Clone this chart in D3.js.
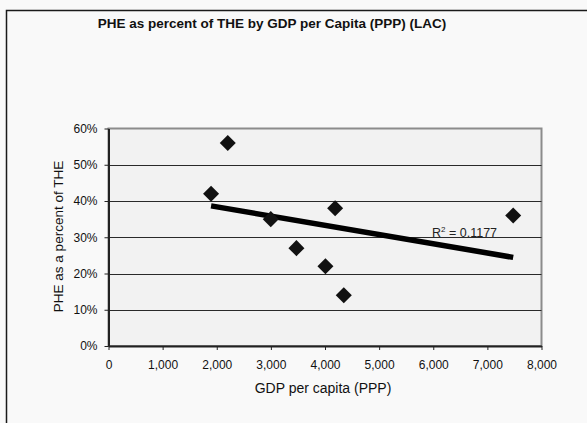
<!DOCTYPE html>
<html>
<head>
<meta charset="utf-8">
<script src="https://cdn.jsdelivr.net/npm/d3@7"></script>
<style>
  html, body { margin: 0; padding: 0; background: #f9f9f9; overflow: hidden; }
  svg { display: block; font-family: Arial, "Liberation Sans", sans-serif; }
</style>
</head>
<body>
<svg id="chart" width="587" height="423"></svg>
<script>
// GDP per capita (PPP) and private health expenditure share, LAC countries
const gdpPerCapita = [1895, 2203, 2998, 3472, 4008, 4187, 4347, 7477];
const pheShare     = [0.42, 0.56, 0.35, 0.27, 0.22, 0.38, 0.14, 0.36];
const xTicks = [0, 1000, 2000, 3000, 4000, 5000, 6000, 7000, 8000];
const yTicks = [0, 0.1, 0.2, 0.3, 0.4, 0.5, 0.6];
const rSquaredLabel = "0.1177";

const svg = d3.select("#chart");
const W = 587, H = 423;

// chart background; frame runs off the right and bottom edges
svg.append("rect").attr("x", 0).attr("y", 0).attr("width", W).attr("height", H).attr("fill", "#f9f9f9");
svg.append("path").attr("d", `M6.5,${H}V10.5H${W}`)
  .attr("fill", "none").attr("stroke", "#1a1a1a").attr("stroke-width", 1.5);

const x = d3.scaleLinear().domain([0, 8000]).range([108.5, 541.5]);
const y = d3.scaleLinear().domain([0, 0.6]).range([346, 128.5]);

// plot area
svg.append("rect")
  .attr("x", x(0)).attr("y", y(0.6))
  .attr("width", x(8000) - x(0)).attr("height", y(0) - y(0.6))
  .attr("fill", "#f2f2f2").attr("stroke", "#8c8c8c").attr("stroke-width", 2);

// horizontal gridlines
svg.append("g").selectAll("line").data(yTicks.filter(t => t > 0 && t < 0.6)).join("line")
  .attr("x1", x(0)).attr("x2", x(8000))
  .attr("y1", d => Math.round(y(d)) + 0.5).attr("y2", d => Math.round(y(d)) + 0.5)
  .attr("stroke", "#2a2a2a").attr("stroke-width", 1);

// axes
const xAxis = svg.append("g").attr("transform", `translate(0,${y(0)})`)
  .call(d3.axisBottom(x).tickValues(xTicks).tickFormat(d3.format(",")).tickSizeInner(4).tickSizeOuter(0).tickPadding(10));
const yAxis = svg.append("g").attr("transform", `translate(${x(0)},0)`)
  .call(d3.axisLeft(y).tickValues(yTicks).tickFormat(d3.format(".0%")).tickSizeInner(4).tickSizeOuter(0).tickPadding(7));
[xAxis, yAxis].forEach(g => {
  g.select(".domain").attr("stroke", "#222").attr("stroke-width", 2);
  g.selectAll(".tick line").attr("stroke", "#222").attr("stroke-width", 1);
  g.selectAll(".tick text").attr("fill", "#111").style("font-size", "12px").style("font-family", "Arial, 'Liberation Sans', sans-serif");
});

// linear trend line (least squares)
const n = gdpPerCapita.length;
const mx = d3.mean(gdpPerCapita), my = d3.mean(pheShare);
let sxy = 0, sxx = 0;
for (let i = 0; i < n; i++) {
  sxy += (gdpPerCapita[i] - mx) * (pheShare[i] - my);
  sxx += (gdpPerCapita[i] - mx) ** 2;
}
const slope = sxy / sxx, intercept = my - slope * mx;
const [xMin, xMax] = d3.extent(gdpPerCapita);
svg.append("line")
  .attr("x1", x(xMin)).attr("y1", y(intercept + slope * xMin))
  .attr("x2", x(xMax)).attr("y2", y(intercept + slope * xMax))
  .attr("stroke", "#000").attr("stroke-width", 5.5);

// data markers (diamonds)
const diamond = d3.symbol(d3.symbolSquare, 128);
svg.append("g").selectAll("path").data(gdpPerCapita.map((g, i) => [g, pheShare[i]])).join("path")
  .attr("d", diamond)
  .attr("transform", d => `translate(${x(d[0])},${y(d[1])}) rotate(45)`)
  .attr("fill", "#111");

// R² label
const r2 = svg.append("text").attr("x", 432).attr("y", 237)
  .style("font-size", "12.5px").attr("fill", "#222");
r2.append("tspan").text("R");
r2.append("tspan").attr("dy", -5).style("font-size", "8px").text("2");
r2.append("tspan").attr("dy", 5).text(" = " + rSquaredLabel);

// titles
svg.append("text").attr("x", 272).attr("y", 27.5).attr("text-anchor", "middle")
  .style("font-size", "13.5px").style("font-weight", "bold").attr("fill", "#111")
  .text("PHE as percent of THE by GDP per Capita (PPP) (LAC)");
svg.append("text").attr("x", 323).attr("y", 393).attr("text-anchor", "middle")
  .style("font-size", "14px").attr("fill", "#111").text("GDP per capita (PPP)");
svg.append("text").attr("transform", "translate(63,236.5) rotate(-90)").attr("text-anchor", "middle")
  .style("font-size", "13.5px").attr("fill", "#111").text("PHE as a percent of THE");
</script>
</body>
</html>
